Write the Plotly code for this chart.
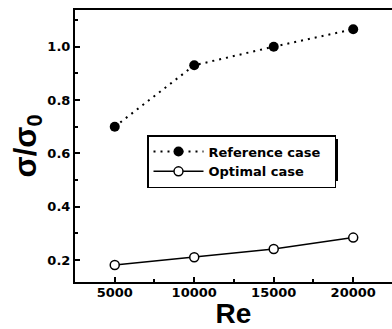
import plotly.graph_objects as go

re_vals = [5000, 10000, 15000, 20000]
reference_case = [0.70, 0.93, 1.00, 1.065]
optimal_case = [0.181, 0.21, 0.241, 0.284]
x_ticks = [5000, 10000, 15000, 20000]
x_tick_labels = ["5000", "10000", "15000", "20000"]
y_ticks = [0.2, 0.4, 0.6, 0.8, 1.0]

FONT = "Liberation Sans"
BFONT = "DejaVu Sans"

fig = go.Figure()
fig.add_trace(go.Scatter(
    x=re_vals, y=reference_case, name="Reference case\u00a0\u00a0",
    mode="lines+markers",
    line=dict(color="black", width=2, dash="2px,5px"),
    marker=dict(symbol="circle", size=10, color="black"),
))
fig.add_trace(go.Scatter(
    x=re_vals, y=optimal_case, name="Optimal case",
    mode="lines+markers",
    line=dict(color="black", width=1.5),
    marker=dict(symbol="circle", size=9, color="white", line=dict(color="black", width=1.5)),
))

W, H = 392, 329
L, R, T, B = 75, 0, 10, 47
pw, ph = W - L - R, H - T - B

def px_x(v):
    return (v - L) / pw

def px_y(v):
    return (H - B - v) / ph

fig.add_shape(type="rect", xref="paper", yref="paper",
              x0=px_x(151), x1=px_x(338), y0=px_y(181), y1=px_y(139),
              fillcolor="black", line=dict(width=0), layer="above")

fig.update_layout(
    width=W, height=H,
    margin=dict(l=L, r=R, t=T, b=B),
    paper_bgcolor="white", plot_bgcolor="white",
    font=dict(family=FONT, color="black", size=12),
    showlegend=True,
    legend=dict(
        x=px_x(147), y=px_y(135), xanchor="left", yanchor="top",
        bgcolor="white", bordercolor="black", borderwidth=1.5,
        font=dict(family=BFONT, size=13, color="black", weight="bold"),
        itemwidth=50, tracegroupgap=0,
    ),
    xaxis=dict(
        range=[2500, 22440], tickvals=x_ticks, ticktext=x_tick_labels,
        showline=True, linecolor="black", linewidth=2, mirror=True,
        ticks="inside", ticklen=5, tickwidth=1.5, tickcolor="black",
        minor=dict(ticks="inside", dtick=2500, tick0=0, ticklen=3, tickcolor="black"),
        showgrid=False, zeroline=False,
        title=dict(text="Re", font=dict(family=FONT, size=28, weight="bold"), standoff=0),
        tickfont=dict(family=BFONT, size=13, weight="bold"),
        ticklabelstandoff=-3,
    ),
    yaxis=dict(
        range=[0.1175, 1.1375], tickvals=y_ticks, tickformat=".1f",
        showline=True, linecolor="black", linewidth=2,
        ticks="inside", ticklen=5, tickwidth=1.5, tickcolor="black",
        minor=dict(ticks="inside", dtick=0.1, tick0=0.1, ticklen=3, tickcolor="black"),
        showgrid=False, zeroline=False,
        title=dict(text="σ/σ<sub>0</sub>", font=dict(family=FONT, size=31, weight="bold"), standoff=2),
        tickfont=dict(family=BFONT, size=13, weight="bold"),
    ),
)

fig.write_html("out.html", config={"displayModeBar": False},
               post_script="document.body.style.margin='0';document.body.style.overflow='hidden';")
